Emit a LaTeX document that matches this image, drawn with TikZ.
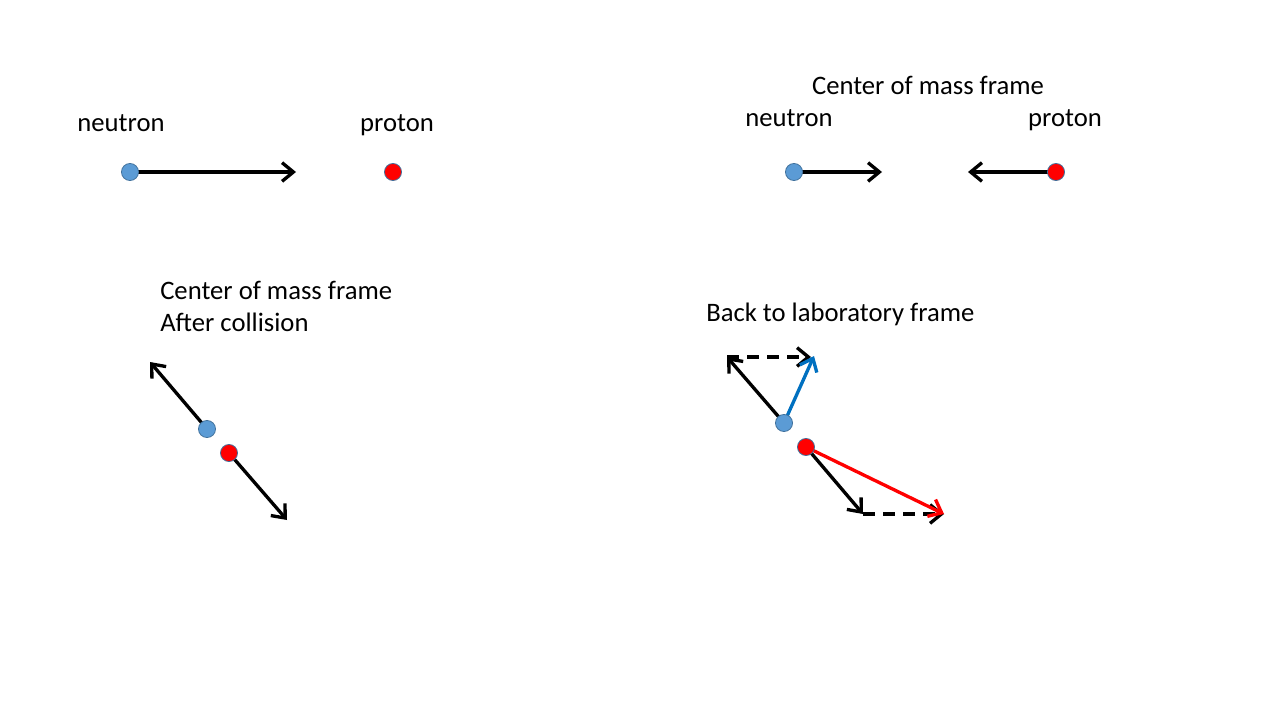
\documentclass[tikz,border=0pt]{standalone}
\usepackage{fontspec}
\setmainfont{Carlito}
\usetikzlibrary{arrows.meta}
\definecolor{nblue}{HTML}{5B9BD5}
\definecolor{nborder}{HTML}{41719C}
\definecolor{varrow}{HTML}{0070C0}
\begin{document}
\begin{tikzpicture}[x=0.75pt,y=-0.75pt,
  neutron/.style={circle,fill=nblue,draw=nborder,line width=0.6pt,minimum size=12.8pt,inner sep=0pt},
  proton/.style={circle,fill=red,draw=nborder,line width=0.6pt,minimum size=12.8pt,inner sep=0pt},
  vec/.style={line width=2.5pt,-{Straight Barb[length=8.5pt,width=14pt,line width=2.5pt]}},
  dvec/.style={vec,dash pattern=on 9pt off 6pt},
  lbl/.style={font=\fontsize{20}{24}\selectfont,inner sep=0pt,anchor=base},
  lbll/.style={lbl,anchor=base west}]
\useasboundingbox (0,0) rectangle (1280,720);
% Panel 1
\coordinate (t1) at (296,172);
\draw[vec] (130,172) coordinate (n1c) -- (t1);
\node[neutron] (n1) at (n1c) {};
\node[proton] (p1) at (393,172) {};
\node[lbl] (ln1) at (121,132) {neutron};
\node[lbl] (lp1) at (397,132) {proton};
% Panel 2
\node[lbl] (cm2) at (928,95) {Center of mass frame};
\node[lbl] (ln2) at (789,127) {neutron};
\node[lbl] (lp2) at (1065,127) {proton};
\coordinate (t2n) at (882,172);
\coordinate (t2p) at (968,172);
\draw[vec] (794,172) coordinate (n2c) -- (t2n);
\draw[vec] (1056,172) coordinate (p2c) -- (t2p);
\node[neutron] (n2) at (n2c) {};
\node[proton] (p2) at (p2c) {};
% Panel 3
\node[lbll] (cm3) at (160,299) {Center of mass frame};
\node[lbll] (ac3) at (160,331) {After collision};
\coordinate (t3n) at (150,362);
\coordinate (t3p) at (287,520);
\draw[vec] (207,429) coordinate (n3c) -- (t3n);
\draw[vec] (229,453) coordinate (p3c) -- (t3p);
\node[neutron] (n3) at (n3c) {};
\node[proton] (p3) at (p3c) {};
% Panel 4
\node[lbll] (bl4) at (706,321) {Back to laboratory frame};
\coordinate (t4n) at (727,357);
\coordinate (t4nl) at (814,356);
\coordinate (t4p) at (863,514);
\coordinate (t4pl) at (944,514);
\draw[vec] (784,423) coordinate (n4c) -- (t4n);
\draw[dvec] (t4n) -- (811,357);
\draw[vec,draw=varrow] (n4c) -- (t4nl);
\draw[vec] (806,447) coordinate (p4c) -- (t4p);
\draw[dvec] (t4p) -- (t4pl);
\draw[vec,draw=red] (p4c) -- (t4pl);
\node[neutron] (n4) at (n4c) {};
\node[proton] (p4) at (p4c) {};
\end{tikzpicture}
\end{document}
